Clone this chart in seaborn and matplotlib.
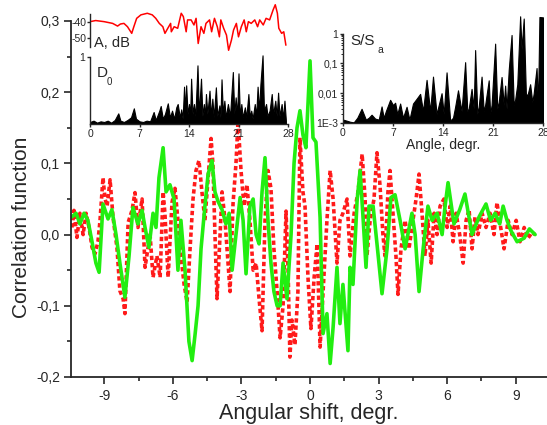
import numpy as np
import pandas as pd
import matplotlib
matplotlib.use("Agg")
import matplotlib.pyplot as plt
import matplotlib.ticker as mticker
import seaborn as sns

# === Main panel: correlation function vs angular shift ===
green_x = [-10.42, -10.24, -10.07, -9.89, -9.72, -9.54, -9.37, -9.23, -9.06, -8.84,
           -8.67, -8.49, -8.32, -8.10, -7.92, -7.75, -7.53, -7.35, -7.22, -7.05,
           -6.87, -6.74, -6.61, -6.43, -6.30, -6.13, -5.95, -5.78, -5.65, -5.47,
           -5.30, -5.16, -5.03, -4.90, -4.77, -4.60, -4.46, -4.29, -4.16, -4.03,
           -3.85, -3.68, -3.54, -3.41, -3.24, -3.06, -2.93, -2.80, -2.63, -2.49,
           -2.36, -2.23, -2.10, -1.97, -1.84, -1.71, -1.58, -1.44, -1.31, -1.18,
           -1.01, -0.83, -0.70, -0.57, -0.44, -0.31, -0.18, 0.0, 0.13, 0.26,
           0.44, 0.57, 0.74, 0.88, 1.01, 1.18, 1.31, 1.44, 1.66, 1.75,
           1.88, 2.06, 2.19, 2.32, 2.45, 2.58, 2.76, 2.93, 3.15, 3.37,
           3.54, 3.72, 3.94, 4.16, 4.46, 4.60, 4.77, 4.95, 5.16, 5.34,
           5.56, 5.78, 5.91, 6.04, 6.30, 6.55, 6.78, 7.09, 7.40, 7.70,
           7.90, 8.10, 8.30, 8.45, 8.62, 8.80, 9.06, 9.37, 9.60, 9.85]
green_y = [0.025, 0.030, 0.015, 0.030, 0.020, -0.010, -0.040, -0.053, 0.043, 0.022,
           0.035, 0.000, -0.040, -0.088, -0.030, 0.038, 0.015, 0.034, 0.010, -0.018,
           0.030, 0.010, 0.080, 0.122, 0.060, 0.070, 0.050, -0.050, 0.020, -0.050,
           -0.150, -0.177, -0.140, -0.100, -0.020, 0.040, 0.085, 0.104, 0.060, 0.047,
           0.035, 0.015, 0.030, -0.050, 0.000, 0.052, 0.020, -0.055, 0.040, 0.050,
           0.000, -0.013, 0.060, 0.108, 0.020, -0.040, -0.080, -0.100, -0.100, -0.040,
           -0.090, 0.000, 0.100, 0.150, 0.174, 0.140, 0.122, 0.244, 0.136, 0.130,
           0.024, -0.139, -0.111, -0.181, -0.130, -0.046, -0.125, -0.070, -0.163, -0.046,
           -0.070, 0.048, 0.090, 0.024, -0.046, 0.040, 0.040, -0.013, -0.083, -0.020,
           0.052, 0.056, 0.020, -0.020, 0.030, 0.000, -0.080, -0.020, 0.040, 0.020,
           0.030, 0.000, 0.040, 0.073, 0.015, 0.035, 0.057, 0.000, 0.025, 0.043,
           0.020, 0.030, 0.015, 0.040, 0.020, 0.005, -0.010, -0.005, 0.008, 0.000]

red_x = [-10.42, -10.33, -10.20, -10.07, -9.93, -9.80, -9.67, -9.54, -9.41, -9.28,
         -9.19, -9.06, -8.97, -8.88, -8.75, -8.62, -8.45, -8.32, -8.18, -8.10,
         -7.96, -7.79, -7.66, -7.53, -7.35, -7.22, -7.00, -6.87, -6.70, -6.56,
         -6.43, -6.35, -6.21, -6.04, -5.91, -5.78, -5.65, -5.51, -5.38, -5.25,
         -5.12, -4.99, -4.86, -4.73, -4.60, -4.46, -4.33, -4.25, -4.16, -4.07,
         -3.98, -3.85, -3.72, -3.59, -3.50, -3.37, -3.24, -3.15, -3.02, -2.89,
         -2.76, -2.63, -2.49, -2.36, -2.23, -2.10, -1.97, -1.84, -1.71, -1.58,
         -1.44, -1.31, -1.18, -1.05, -0.96, -0.88, -0.79, -0.66, -0.53, -0.44,
         -0.31, -0.22, -0.09, 0.04, 0.18, 0.31, 0.44, 0.57, 0.74, 0.88,
         1.01, 1.18, 1.31, 1.44, 1.62, 1.75, 1.93, 2.10, 2.28, 2.41,
         2.49, 2.63, 2.80, 2.93, 3.06, 3.19, 3.28, 3.41, 3.50, 3.63,
         3.76, 3.85, 3.98, 4.16, 4.33, 4.46, 4.64, 4.77, 4.90, 5.03,
         5.16, 5.30, 5.43, 5.56, 5.69, 5.86, 6.00, 6.13, 6.26, 6.39,
         6.55, 6.70, 6.83, 6.96, 7.09, 7.22, 7.35, 7.53, 7.70, 7.88,
         8.05, 8.18, 8.32, 8.49, 8.67, 8.84, 9.02, 9.19, 9.37, 9.54,
         9.72, 9.85]
red_y = [0.010, 0.034, -0.004, 0.030, 0.000, 0.030, 0.010, -0.018, -0.027, -0.010,
         0.020, 0.080, 0.050, 0.040, 0.077, 0.024, -0.018, -0.079, -0.090, -0.111,
         0.017, 0.034, 0.059, 0.010, 0.050, -0.046, 0.000, -0.060, -0.030, -0.060,
         0.060, 0.030, -0.060, 0.045, 0.065, 0.020, -0.030, -0.070, -0.095, -0.020,
         0.050, 0.090, 0.104, 0.060, 0.020, 0.080, 0.135, 0.100, 0.000, -0.090,
         -0.030, 0.060, 0.020, -0.040, -0.080, 0.043, 0.100, 0.160, 0.090, 0.040,
         0.070, 0.020, -0.050, -0.040, -0.090, -0.135, 0.020, 0.090, 0.065, -0.020,
         -0.080, -0.145, -0.100, 0.033, -0.050, -0.172, -0.120, -0.155, -0.080, 0.136,
         0.060, 0.040, -0.060, -0.132, -0.060, -0.013, -0.158, -0.080, 0.020, 0.090,
         0.050, -0.040, 0.020, 0.030, 0.050, -0.030, 0.030, 0.060, 0.113, 0.050,
         -0.030, 0.020, 0.050, 0.115, 0.070, 0.000, -0.030, 0.060, 0.090, 0.030,
         -0.030, -0.084, -0.020, 0.020, -0.020, 0.010, 0.050, 0.085, 0.030, -0.030,
         0.020, -0.040, 0.030, 0.000, 0.040, 0.050, 0.010, 0.040, -0.010, 0.030,
         0.000, -0.040, 0.020, 0.035, -0.020, 0.025, 0.000, 0.030, 0.010, 0.030,
         0.000, 0.045, 0.015, -0.020, 0.020, 0.000, 0.020, -0.010, 0.010, -0.005,
         0.003, 0.000]

main_yticks = [-0.2, -0.1, 0.0, 0.1, 0.2, 0.3]
main_yticklabels = ["-0,2", "-0,1", "0,0", "0,1", "0,2", "0,3"]
main_xticks = [-9, -6, -3, 0, 3, 6, 9]

# === Inset: amplitude A, dB ===
amp_x = [0.0, 0.8, 2.0, 3.2, 3.9, 4.3, 4.8, 5.3, 5.9, 6.2, 6.6, 7.2, 8.1, 8.8, 9.3,
         9.8, 10.3, 10.6, 11.0, 11.4, 11.5, 11.9, 12.4, 12.9, 13.2, 13.6, 13.8, 14.3,
         14.7, 15.0, 15.3, 15.7, 16.1, 16.4, 16.9, 17.2, 17.6, 18.0, 18.3, 18.5, 18.9,
         19.3, 19.6, 20.0, 20.3, 20.7, 21.0, 21.4, 21.8, 22.1, 22.4, 22.8, 23.3, 23.7,
         24.0, 24.5, 24.9, 25.4, 25.9, 26.2, 26.5, 26.7, 27.1, 27.4, 27.7]
amp_db = [-39.8, -39.1, -39.8, -40.9, -42.6, -41.3, -40.9, -43.0, -47.2, -43.0, -37.7,
          -35.5, -34.5, -35.5, -37.7, -40.9, -43.0, -47.2, -44.0, -40.9, -46.2, -43.0,
          -44.0, -34.5, -36.6, -46.2, -38.7, -38.7, -41.9, -37.7, -53.6, -43.0, -47.2,
          -40.9, -38.7, -46.2, -37.7, -43.0, -49.4, -38.7, -44.0, -48.3, -57.9, -51.5,
          -45.1, -40.9, -49.4, -43.0, -38.7, -46.2, -39.8, -40.9, -38.7, -43.0, -38.7,
          -41.9, -37.7, -38.7, -32.3, -29.1, -34.5, -44.0, -47.2, -46.2, -54.7]

# === Inset: D0 ===
d0_x = [0.0, 0.5, 1.0, 1.5, 2.0, 2.5, 3.0, 3.5, 4.0, 4.3, 4.8, 5.3, 5.8, 6.2, 6.5,
        7.0, 7.5, 8.0, 8.5, 9.0, 9.3, 9.8, 10.0, 10.3, 10.6, 11.0, 11.3, 11.6, 11.9,
        12.2, 12.4, 12.7, 12.9, 13.1, 13.3, 13.45, 13.6, 13.8, 14.0, 14.15, 14.3, 14.5,
        14.7, 14.9, 15.2, 15.4, 15.7, 15.9, 16.1, 16.25, 16.4, 16.6, 16.9, 17.1, 17.3,
        17.5, 17.8, 18.0, 18.3, 18.45, 18.6, 18.8, 19.0, 19.2, 19.5, 19.8, 20.2, 20.4,
        20.6, 20.8, 21.0, 21.2, 21.4, 21.6, 21.9, 22.1, 22.4, 22.6, 22.8, 23.0, 23.3,
        23.5, 23.7, 23.9, 24.1, 24.4, 24.6, 24.9, 25.1, 25.4, 25.7, 25.9, 26.2, 26.4,
        26.6, 26.8, 27.1, 27.3, 27.5, 27.7]
d0_y = [0.03, 0.05, 0.02, 0.04, 0.03, 0.05, 0.02, 0.06, 0.16, 0.05, 0.03, 0.06, 0.10,
        0.235, 0.08, 0.04, 0.03, 0.05, 0.04, 0.18, 0.06, 0.20, 0.27, 0.08, 0.15, 0.31,
        0.10, 0.20, 0.08, 0.25, 0.30, 0.10, 0.22, 0.08, 0.56, 0.20, 0.58, 0.15, 0.30,
        0.10, 0.68, 0.15, 0.30, 0.12, 0.88, 0.15, 0.68, 0.12, 0.30, 0.10, 0.45, 0.15,
        0.50, 0.12, 0.38, 0.10, 0.55, 0.12, 0.28, 0.10, 0.67, 0.15, 0.35, 0.10, 0.30,
        0.12, 0.78, 0.15, 0.40, 0.12, 0.76, 0.12, 0.30, 0.10, 0.25, 0.10, 0.45, 0.10,
        0.20, 0.08, 0.30, 0.12, 0.56, 0.20, 0.60, 1.03, 0.20, 0.30, 0.12, 0.20, 0.45,
        0.15, 0.35, 0.12, 0.47, 0.12, 0.30, 0.08, 0.35, 0.05]

# === Inset: S/Sa (log) ===
s_x = [0.0, 0.5, 1.0, 1.5, 2.0, 2.6, 3.2, 3.6, 4.0, 4.5, 5.0, 5.4, 5.7, 6.0, 6.6,
       7.0, 7.3, 7.6, 8.0, 8.4, 8.9, 9.3, 9.8, 10.3, 10.8, 11.2, 11.7, 12.2, 12.6,
       13.1, 13.8, 14.1, 14.5, 15.0, 15.4, 15.7, 16.1, 16.6, 17.1, 17.4, 17.6, 18.0,
       18.3, 18.5, 18.8, 19.0, 19.4, 19.7, 19.9, 20.4, 20.6, 20.8, 21.3, 21.6, 21.8,
       22.2, 22.5, 22.7, 22.9, 23.2, 23.6, 23.9, 24.1, 24.4, 24.8, 25.0, 25.3, 25.6,
       25.8, 26.2, 26.5, 26.7, 27.1, 27.3, 27.5, 28.0]
s_y = [1.3e-3, 1.2e-3, 1.1e-3, 1.05e-3, 1.5e-3, 3e-3, 1.3e-3, 1.5e-3, 1.9e-3, 1.4e-3,
       1.3e-3, 3.6e-3, 1.5e-3, 2.5e-3, 6e-3, 4e-3, 4.8e-3, 2e-3, 4.5e-3, 1.5e-3,
       3.5e-3, 1.3e-3, 4.5e-3, 6.5e-3, 9.5e-3, 2.5e-3, 0.028, 2.5e-3, 0.036, 2e-3,
       0.01, 2e-3, 0.05, 1.2e-3, 1.5e-3, 3.5e-3, 0.0125, 2.5e-3, 0.11, 2.5e-3, 3e-3,
       0.014, 3e-3, 0.28, 2e-3, 3.5e-3, 0.036, 2.5e-3, 4e-3, 0.027, 2e-3, 4e-3, 0.46,
       3e-3, 5e-3, 0.035, 4e-3, 0.018, 3e-3, 0.06, 0.9, 4e-3, 6e-3, 0.02, 3.8, 0.3,
       3.2, 0.01, 0.008, 0.02, 0.005, 0.01, 0.07, 0.004, 3.6, 3.5]
s_yticks = [1e-3, 1e-2, 1e-1, 1]
s_yticklabels = ["1E-3", "0,01", "0,1", "1"]
s_minor = [k * 10.0 ** e for e in (-3, -2, -1) for k in range(2, 10)]
inset_xticks = [0, 7, 14, 21, 28]

main_df = pd.DataFrame({"shift": green_x, "corr": green_y})
red_df = pd.DataFrame({"shift": red_x, "corr": red_y})

sns.set_style("ticks")
plt.rcParams["font.family"] = ["Liberation Sans", "DejaVu Sans"]
plt.rcParams["axes.linewidth"] = 1.3
plt.rcParams["axes.unicode_minus"] = False

W, H = 547, 425
fig = plt.figure(figsize=(W / 100, H / 100), dpi=100)


def px_box(left, top, right, bottom):
    return [left / W, 1 - bottom / H, (right - left) / W, (bottom - top) / H]


# --- main axes ---
ax = fig.add_axes(px_box(71, 21, 547, 377))
sns.lineplot(data=red_df, x="shift", y="corr", color="#ff1a1a", lw=2.6, ax=ax, sort=False)
ax.lines[-1].set_dashes([1.2, 0.8])
sns.lineplot(data=main_df, x="shift", y="corr", color="#22ee11", lw=2.6, ax=ax, sort=False)
ax.set_xlim(-10.46, 10.37)
ax.set_ylim(-0.2, 0.3)
ax.set_yticks(main_yticks)
ax.set_yticklabels(main_yticklabels)
ax.set_xticks(main_xticks)
ax.xaxis.set_minor_locator(mticker.MultipleLocator(1.5))
ax.yaxis.set_minor_locator(mticker.MultipleLocator(0.05))
ax.tick_params(which="major", direction="out", length=5, width=1.2, labelsize=10, pad=3)
ax.tick_params(axis="x", which="major", pad=4)
ax.tick_params(which="minor", direction="out", length=3, width=1.2)
ax.set_xlabel("Angular shift, degr.", fontsize=15.5, labelpad=0)
ax.set_ylabel("Correlation function", fontsize=15)
ax.yaxis.set_label_coords(-0.084, 0.42)
sns.despine(ax=ax)
ax.patch.set_alpha(0)

# --- inset A, dB ---
ax_a = fig.add_axes(px_box(90, 3, 288, 52))
sns.lineplot(x=amp_x, y=amp_db, color="red", lw=1.1, ax=ax_a, sort=False)
ax_a.set_xlim(0, 28)
ax_a.set_ylim(-59, -28)
ax_a.set_yticks([-40, -50])
ax_a.set_xticks([])
for s in ["top", "right", "bottom"]:
    ax_a.spines[s].set_visible(False)
ax_a.spines["left"].set_linewidth(1.0)
ax_a.spines["left"].set_bounds(-56, -35)
ax_a.tick_params(axis="y", direction="out", length=2, width=1, labelsize=7.5, pad=0.5)
ax_a.patch.set_alpha(0)
fig.text(94 / W, 1 - 43 / H, "A, dB", fontsize=10.5, ha="left", va="center")

# --- inset D0 ---
ax_d = fig.add_axes(px_box(90, 54, 288, 124))
ax_d.fill_between(d0_x, 0, d0_y, color="black", lw=0.8)
ax_d.set_xlim(0, 28)
ax_d.set_ylim(0, 1.05)
ax_d.set_yticks([1])
ax_d.set_xticks(inset_xticks)
ax_d.spines["top"].set_visible(False)
ax_d.spines["right"].set_visible(False)
ax_d.spines["left"].set_bounds(0, 1)
ax_d.spines["left"].set_linewidth(1.0)
ax_d.spines["bottom"].set_linewidth(1.0)
ax_d.tick_params(direction="out", length=2.5, width=1, labelsize=7.5, pad=1)
ax_d.patch.set_alpha(0)
fig.text(97 / W, 1 - 73 / H, "D", fontsize=11, ha="left", va="center")
fig.text(107 / W, 1 - 82 / H, "0", fontsize=7, ha="left", va="center")

# --- inset S/Sa ---
ax_s = fig.add_axes(px_box(343, 15, 543, 123))
ax_s.fill_between(s_x, 1e-3, s_y, color="black", lw=0.8)
ax_s.set_yscale("log")
ax_s.set_xlim(0, 28)
ax_s.set_ylim(1e-3, 4.2)
ax_s.set_yticks(s_yticks)
ax_s.set_yticklabels(s_yticklabels)
ax_s.set_yticks(s_minor, minor=True)
ax_s.yaxis.set_minor_formatter(mticker.NullFormatter())
ax_s.set_xticks(inset_xticks)
ax_s.spines["top"].set_visible(False)
ax_s.spines["right"].set_visible(False)
ax_s.spines["left"].set_bounds(1e-3, 1)
ax_s.spines["left"].set_linewidth(1.0)
ax_s.spines["bottom"].set_linewidth(1.0)
ax_s.tick_params(which="major", direction="out", length=2.5, width=1, labelsize=7.5, pad=1)
ax_s.tick_params(which="minor", direction="out", length=1.5, width=0.7)
ax_s.set_xlabel("Angle, degr.", fontsize=10, labelpad=0)
ax_s.patch.set_alpha(0)
fig.text(350 / W, 1 - 41 / H, "S/S", fontsize=11, ha="left", va="center")
fig.text(377 / W, 1 - 50 / H, "a", fontsize=7.5, ha="left", va="center")

fig.savefig("out.png", dpi=100)
